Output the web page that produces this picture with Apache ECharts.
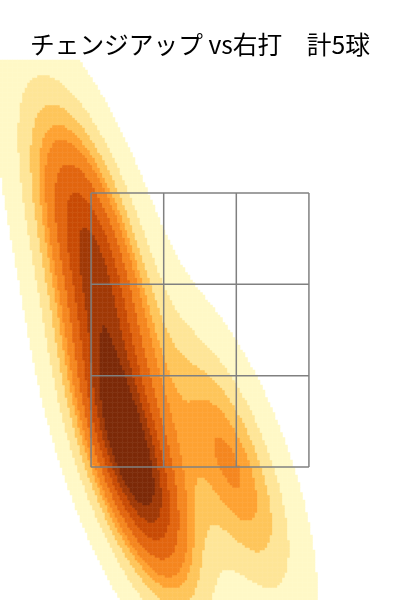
<!DOCTYPE html>
<html>
<head>
<meta charset="utf-8">
<script src="https://cdn.jsdelivr.net/npm/echarts@6/dist/echarts.min.js"></script>
<style>
  html, body { margin: 0; padding: 0; background: #fff; }
  #chart { width: 400px; height: 600px; }
</style>
</head>
<body>
<div id="chart"></div>
<script>
// pitch locations (feet): horizontal plate_x, height plate_z
const pitchX = [-0.728, -0.683, -0.455, -0.423, 0.208]
const pitchZ = [3.412, 2.755, 1.624, 1.405, 1.515]

// strike zone edges
const zoneX = [-0.708, -0.236, 0.236, 0.708]
const zoneZ = [1.5, 2.1667, 2.8333, 3.5]

const xRange = [-1.3, 1.3]
const zRange = [0.53, 4.47]

// kde fill bands, light -> dark
const bandColors = ['#fff8c6', '#fee597', '#fec55a', '#fea232', '#f5861f', '#e2650f', '#c84b05', '#a03906', '#7c2a08']
const isoProps = [0.05, 0.1556, 0.2611, 0.3667, 0.4722, 0.5778, 0.6833, 0.7889, 0.8944]

// gaussian kde, scott bandwidth, full covariance
function makeKde(xs, zs) {
  const n = xs.length
  const mx = xs.reduce((a, b) => a + b, 0) / n
  const mz = zs.reduce((a, b) => a + b, 0) / n
  let sxx = 0, szz = 0, sxz = 0
  for (let i = 0; i < n; i++) {
    sxx += (xs[i] - mx) ** 2
    szz += (zs[i] - mz) ** 2
    sxz += (xs[i] - mx) * (zs[i] - mz)
  }
  const f2 = Math.pow(n, -2 / 6)
  const a = sxx / (n - 1) * f2, d = szz / (n - 1) * f2, b = sxz / (n - 1) * f2
  const det = a * d - b * b
  const ia = d / det, id = a / det, ib = -b / det
  const norm = 1 / (2 * Math.PI * Math.sqrt(det) * n)
  const fn = (x, z) => {
    let s = 0
    for (let i = 0; i < n; i++) {
      const dx = x - xs[i], dz = z - zs[i]
      s += Math.exp(-0.5 * (ia * dx * dx + 2 * ib * dx * dz + id * dz * dz))
    }
    return s * norm
  }
  return { fn, bwx: Math.sqrt(a), bwz: Math.sqrt(d) }
}

const kde = makeKde(pitchX, pitchZ)

// density levels from iso-proportions, on an extended support grid
function levelsFor() {
  const g = 200
  const x0 = Math.min(...pitchX) - 3 * kde.bwx, x1 = Math.max(...pitchX) + 3 * kde.bwx
  const z0 = Math.min(...pitchZ) - 3 * kde.bwz, z1 = Math.max(...pitchZ) + 3 * kde.bwz
  const vals = []
  for (let i = 0; i < g; i++) {
    for (let j = 0; j < g; j++) {
      vals.push(kde.fn(x0 + (x1 - x0) * i / (g - 1), z0 + (z1 - z0) * j / (g - 1)))
    }
  }
  vals.sort((p, q) => q - p)
  const total = vals.reduce((p, q) => p + q, 0)
  const cum = []
  let acc = 0
  for (const v of vals) { acc += v; cum.push(acc / total) }
  return isoProps.map((p) => {
    const target = 1 - p
    let k = cum.findIndex((c) => c >= target)
    if (k < 0) k = vals.length - 1
    return vals[k]
  })
}

const levels = levelsFor()

const nx = 160, nz = 216
const cells = []
for (let i = 0; i < nx; i++) {
  const x = xRange[0] + (xRange[1] - xRange[0]) * (i + 0.5) / nx
  for (let j = 0; j < nz; j++) {
    const z = zRange[0] + (zRange[1] - zRange[0]) * (j + 0.5) / nz
    const v = kde.fn(x, z)
    let band = -1
    for (let k = 0; k < levels.length; k++) if (v >= levels[k]) band = k
    if (band >= 0) cells.push([i, j, band])
  }
}

const zoneSeries = []
zoneX.forEach((x) => zoneSeries.push([[x, zoneZ[0]], [x, zoneZ[3]]]))
zoneZ.forEach((z) => zoneSeries.push([[zoneX[0], z], [zoneX[3], z]]))

const chart = echarts.init(document.getElementById('chart'))
const gridPos = { left: 0, right: 0, top: 60, bottom: 0 }

chart.setOption({
  animation: false,
  title: {
    text: 'チェンジアップ vs右打　計5球',
    left: 'center',
    top: 27,
    textStyle: { fontFamily: 'Noto Sans CJK JP', fontSize: 24.7, fontWeight: 'normal', color: '#000' },
  },
  grid: [gridPos, gridPos],
  xAxis: [
    { type: 'category', gridIndex: 0, data: Array.from({ length: nx }, (_, i) => i), show: false },
    { type: 'value', gridIndex: 1, min: xRange[0], max: xRange[1], show: false },
  ],
  yAxis: [
    { type: 'category', gridIndex: 0, data: Array.from({ length: nz }, (_, i) => i), show: false },
    { type: 'value', gridIndex: 1, min: zRange[0], max: zRange[1], show: false },
  ],
  visualMap: {
    type: 'piecewise',
    show: false,
    seriesIndex: 0,
    dimension: 2,
    pieces: bandColors.map((c, k) => ({ value: k, color: c })),
  },
  series: [
    {
      type: 'heatmap',
      xAxisIndex: 0,
      yAxisIndex: 0,
      data: cells,
      progressive: 0,
      itemStyle: { borderWidth: 0 },
    },
    ...zoneSeries.map((seg) => ({
      type: 'line',
      xAxisIndex: 1,
      yAxisIndex: 1,
      data: seg,
      symbol: 'none',
      lineStyle: { color: '#808080', width: 1.5 },
      silent: true,
    })),
  ],
})
</script>
</body>
</html>
